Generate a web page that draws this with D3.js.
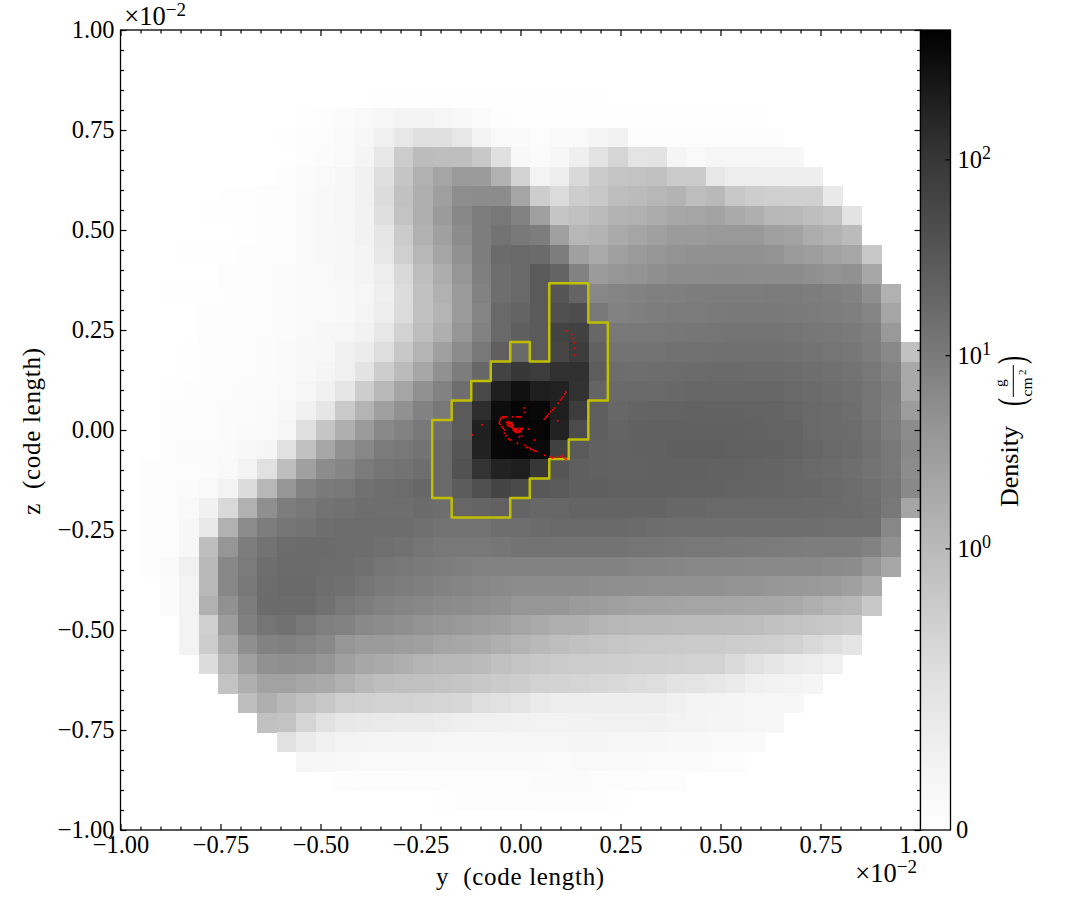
<!DOCTYPE html>
<html>
<head>
<meta charset="utf-8">
<script src="https://cdn.jsdelivr.net/npm/d3@7"></script>
<style>
  body { margin: 0; background: #fff; }
  text { font-family: "Liberation Serif", serif; fill: #000; }
  .axis path, .axis line { stroke: #000; stroke-width: 1.2; }
  .axis text { font-size: 24.5px; font-family: "Liberation Serif", serif; }
</style>
</head>
<body>
<svg id="plot" width="1085" height="920"></svg>
<script>
// Density, as darkness on the colour bar (0 = white, 255 = black).
// One row per cell row, top to bottom; short rows are blank to the right.
const densityRows = [
  [],
  [],
  [],
  [0,0,0,0,0,0,0,0,0,0,0,0,0,1,1,1,1,1,1,1,1,1,1,1,1],
  [0,0,0,0,0,0,0,0,0,1,2,4,6,9,11,11,9,7,4,2,1,1,1,1,1,1,1,1,1,1,1,1,1],
  [0,0,0,0,0,0,0,0,1,2,3,5,8,15,24,31,31,24,12,6,5,3,5,6,10,13,3,3,3,3,3,3,3,3],
  [0,0,0,0,0,0,0,0,0,2,4,6,10,23,51,67,65,65,55,31,7,4,8,16,28,42,27,28,10,6,9,9,9,9,8],
  [0,0,0,0,0,0,0,0,2,4,6,9,14,32,58,78,90,100,100,78,45,12,18,38,52,58,60,62,52,52,24,18,18,17,17,17],
  [0,0,0,0,0,1,1,2,3,5,7,9,14,35,62,80,96,113,115,115,90,50,36,50,55,65,68,72,76,65,70,55,50,48,47,47,22],
  [0,0,0,0,1,1,1,2,3,5,7,9,13,32,60,80,100,120,130,135,125,95,58,62,68,76,78,84,88,90,92,85,80,72,70,65,60,28],
  [0,0,0,0,0,0,1,2,3,5,7,8,13,25,52,78,95,115,130,140,135,130,95,72,76,85,90,95,100,100,102,102,102,95,92,82,76,68],
  [0,0,0,1,1,1,2,2,3,5,7,8,11,24,48,72,90,110,130,148,150,148,130,95,85,95,100,105,108,110,110,110,110,108,100,97,92,88,55],
  [0,0,0,0,0,2,2,3,4,5,6,8,11,18,38,65,82,105,128,145,150,165,155,125,100,105,108,112,115,115,116,116,115,115,115,112,108,110,88],
  [0,0,1,1,1,2,3,3,4,5,6,7,9,16,35,62,78,100,125,145,150,165,170,155,120,123,125,127,128,130,130,130,130,132,132,130,128,125,112,78],
  [0,0,0,0,2,3,3,3,4,5,6,7,10,18,36,62,75,100,122,150,155,165,175,178,135,125,128,130,132,132,133,134,134,134,133,132,130,128,122,90],
  [0,0,0,0,2,3,3,3,4,6,8,9,13,24,45,65,80,105,125,150,160,165,188,190,152,135,135,135,136,137,138,139,139,139,138,136,135,133,128,102],
  [0,0,0,1,2,2,3,4,5,7,8,15,19,33,55,75,95,115,135,160,150,165,185,195,158,140,140,140,142,142,143,143,143,143,142,140,138,136,130,118,62],
  [0,0,0,1,2,3,3,4,5,7,10,15,28,50,68,88,110,130,152,188,200,195,207,207,162,146,145,146,147,148,149,149,148,148,147,145,143,140,135,125,86],
  [0,0,1,2,3,3,4,4,6,9,14,25,50,70,90,110,125,145,183,225,238,225,222,205,155,150,150,150,151,152,153,153,153,152,150,148,146,143,138,130,87],
  [0,0,2,3,3,4,4,5,7,14,25,53,75,95,110,125,135,165,210,242,250,247,225,195,160,152,155,156,156,157,157,157,156,155,153,150,148,145,138,128,99],
  [0,0,2,3,3,4,5,6,9,31,58,80,100,118,125,135,145,165,223,248,252,250,221,180,160,155,158,158,158,158,158,158,157,156,155,150,148,147,140,130,115],
  [0,0,3,4,4,5,7,10,30,62,88,110,120,132,135,140,150,170,221,247,250,245,190,165,158,157,158,158,160,160,160,159,158,158,156,153,150,148,142,135,118],
  [0,2,3,3,4,6,12,30,65,95,115,122,132,138,140,145,150,173,204,221,225,200,170,160,158,157,157,158,158,158,157,157,156,155,153,150,148,145,140,135,115],
  [0,2,3,4,6,12,35,72,105,125,133,135,142,145,147,152,150,163,175,187,181,167,165,160,160,158,158,158,158,157,157,156,155,154,153,152,150,147,143,137,118],
  [0,2,3,6,14,38,78,112,130,135,140,142,145,145,145,148,145,153,155,158,155,152,152,155,155,155,155,155,152,152,150,150,150,150,150,149,148,147,145,135,90],
  [0,2,3,8,22,78,115,130,137,140,145,147,147,146,146,143,140,140,140,145,145,148,150,150,150,150,148,146,145,145,145,145,145,145,145,145,144,144,143,120],
  [0,2,3,8,65,105,130,140,147,148,148,147,146,144,142,138,135,135,135,137,140,140,140,140,140,140,138,137,136,135,135,134,133,132,131,130,130,130,125,110],
  [0,2,5,15,70,120,132,145,148,148,147,146,143,138,135,133,130,128,125,125,125,125,125,125,125,125,123,122,121,120,120,119,118,118,118,118,116,115,105,88],
  [0,0,4,12,70,120,135,147,150,150,145,143,138,133,130,128,125,122,120,118,115,115,115,115,113,112,112,111,110,110,110,108,107,105,103,102,100,95,85],
  [0,0,4,12,78,110,130,148,148,148,142,135,130,125,122,120,117,115,112,110,105,105,105,100,98,95,93,92,91,90,90,89,88,88,85,80,75,72,55],
  [0,0,0,12,48,98,127,138,142,135,127,125,118,115,112,108,105,102,98,95,90,85,80,80,75,72,70,70,69,68,68,67,66,62,60,58,55,52],
  [0,0,0,12,50,85,112,125,127,123,118,105,100,100,97,95,90,88,85,80,75,70,65,62,60,57,55,54,53,52,52,50,49,48,45,38,33,26],
  [0,0,0,0,35,72,95,110,112,110,105,95,88,85,80,75,72,72,68,62,58,55,52,51,50,49,48,47,46,45,45,37,30,25,20,18,15],
  [0,0,0,0,0,60,80,93,93,88,85,78,70,65,63,62,60,58,55,52,50,45,44,42,40,38,35,33,28,27,24,20,15,13,12,10],
  [0,0,0,0,0,0,65,80,70,63,55,48,46,45,45,43,42,40,33,30,27,20,18,18,17,17,17,18,14,12,11,10,9,8,8],
  [0,0,0,0,0,0,0,62,60,42,30,23,22,21,20,20,18,16,15,14,13,12,12,13,13,13,13,14,12,11,10,10,9,8],
  [0,0,0,0,0,0,0,0,30,20,15,12,11,10,10,10,9,9,9,9,9,9,9,10,10,9,8,8,7,7,6,5,5],
  [0,0,0,0,0,0,0,0,0,9,8,7,6,6,6,5,5,5,5,5,5,5,4,6,6,5,5,4,4,4,3,3],
  [0,0,0,0,0,0,0,0,0,0,0,2,3,3,3,3,3,3,3,3,3,4,4,4,3,3,3,2,2],
  [0,0,0,0,0,0,0,0,0,0,0,0,0,0,0,0,1,2,2,2,2,3,3,3,3,1],
  []
];

const gridSize = 41;

// Outline as cell edges (column, row)
const contourCols = [22,24,24,25,25,24,24,23,23,22,22,21,21,20,20,17,17,16,16,17,17,18,18,19,19,20,20,21,21,22,22];
const contourRows = [13,13,15,15,19,19,21,21,22,22,23,23,24,24,25,25,24,24,20,20,19,19,18,18,17,17,16,16,17,17,13];

// Particles, y and z in units of 10^-2 code length
const particleY = [0.009,0.010,-0.045,-0.039,-0.036,-0.020,-0.010,-0.005,0.000,-0.050,-0.053,-0.051,-0.046,-0.043,-0.040,-0.035,-0.030,-0.026,-0.022,-0.020,-0.018,-0.028,-0.033,-0.022,-0.016,-0.012,-0.007,-0.001,0.005,-0.014,-0.010,0.000,-0.003,0.003,0.020,-0.040,-0.036,-0.030,-0.025,-0.008,-0.096,-0.120,0.011,0.015,0.024,0.032,0.039,0.035,0.061,0.074,0.082,0.092,0.099,0.100,0.114,0.060,0.064,0.067,0.076,0.081,0.094,0.093,0.103,0.106,0.111,0.113,0.114,0.128,0.132,0.134,0.135,0.135,
  -0.032,-0.028,-0.024,-0.030,-0.025,-0.020,-0.015,-0.018,-0.012,-0.008,-0.004,-0.005,0.000,0.003,-0.010,-0.042,-0.048,-0.052,0.026,0.036,0.018,0.080,0.105,0.110,0.070,0.085,0.100];
const particleZ = [0.055,0.044,0.033,0.033,0.033,0.033,0.033,0.033,0.032,0.027,0.018,0.014,0.008,0.004,0.000,0.019,0.017,0.017,0.019,0.014,0.011,0.012,0.014,0.008,0.000,0.000,0.004,0.004,0.004,-0.004,-0.006,-0.004,-0.017,-0.015,0.002,-0.008,-0.014,-0.022,-0.025,-0.033,0.013,-0.012,-0.038,-0.044,-0.046,-0.050,-0.053,-0.025,-0.063,-0.067,-0.068,-0.068,-0.067,-0.068,-0.073,0.028,0.032,0.035,0.046,0.050,0.067,0.023,0.079,0.083,0.090,0.095,0.248,0.239,0.229,0.218,0.204,0.187,
  0.020,0.020,0.015,0.010,0.009,0.005,0.004,0.000,-0.003,0.001,-0.002,-0.006,0.000,0.002,0.002,0.030,0.030,0.022,-0.048,-0.052,-0.043,-0.070,-0.064,-0.070,0.040,0.055,0.075];

const majorTicks = [-1,-0.75,-0.5,-0.25,0,0.25,0.5,0.75,1];
const minorTicks = d3.range(-20, 21).map(i => i / 20).filter(v => !majorTicks.includes(v));
const colorbarTicks = [1, 10, 100];
const colorbarMax = 457;

// Colour bar shade: position along the bar (0 bottom, 1 top) against darkness
const barPositions = [0, 0.1, 0.2, 0.35, 0.5, 0.595, 0.7, 0.839, 0.9, 1];
const barDarkness = [0, 15, 33, 69, 105, 133, 163, 201, 221, 255];

const plotLeft = 120.5, plotRight = 920.5, plotTop = 30, plotBottom = 830;
const barLeft = 920.5, barRight = 950.5;

const svg = d3.select("#plot");
svg.append("rect").attr("width", 1085).attr("height", 920).attr("fill", "#fff");

const x = d3.scaleLinear().domain([-1, 1]).range([plotLeft, plotRight]);
const y = d3.scaleLinear().domain([-1, 1]).range([plotBottom, plotTop]);
const colX = d3.scaleLinear().domain([0, gridSize]).range([-1, 1]);
const rowY = d3.scaleLinear().domain([0, gridSize]).range([1, -1]);
const shade = d3.scaleLinear().domain([0, 255]).range(["#ffffff", "#000000"]);
const densityAxis = d3.scaleSymlog().constant(0.038).domain([0, colorbarMax]).range([plotBottom, plotTop]);

// Density cells
const cells = densityRows.flatMap((row, r) => row.map((v, c) => ({ r, c, v }))).filter(d => d.v > 0);
svg.append("g").attr("shape-rendering", "crispEdges")
  .selectAll("rect").data(cells).join("rect")
  .attr("x", d => x(colX(d.c)))
  .attr("y", d => y(rowY(d.r)))
  .attr("width", d => x(colX(d.c + 1)) - x(colX(d.c)) + 0.3)
  .attr("height", d => y(rowY(d.r + 1)) - y(rowY(d.r)) + 0.3)
  .attr("fill", d => shade(d.v));

// Contour
const contourPoints = contourCols.map((c, i) => [c, contourRows[i]]);
const contourLine = d3.line().x(d => x(colX(d[0])) - 0.5).y(d => y(rowY(d[1])) - 0.3);
svg.append("path")
  .attr("d", contourLine(contourPoints) + "Z")
  .attr("fill", "none")
  .attr("stroke", "#bfbf00")
  .attr("stroke-width", 2.5)
  .attr("stroke-linejoin", "round");

// Particles
svg.append("g").selectAll("rect").data(particleY).join("rect")
  .attr("x", d => x(d) - 0.85)
  .attr("y", (d, i) => y(particleZ[i]) - 0.85)
  .attr("width", 1.7)
  .attr("height", 1.7)
  .attr("fill", "#ff0000");

// Frame
svg.append("rect")
  .attr("x", plotLeft).attr("y", plotTop)
  .attr("width", plotRight - plotLeft).attr("height", plotBottom - plotTop)
  .attr("fill", "none").attr("stroke", "#000").attr("stroke-width", 1.3);

// Ticks on all four sides, pointing in
function addTicks(axisFn, scale, tx, ty, labels) {
  const major = axisFn(scale).tickValues(majorTicks).tickSize(-6).tickSizeOuter(0).tickPadding(6)
    .tickFormat(labels ? d3.format(".2f") : "");
  const minor = axisFn(scale).tickValues(minorTicks).tickSize(-3.5).tickSizeOuter(0).tickFormat("");
  for (const a of [major, minor]) {
    const g = svg.append("g").attr("class", "axis").attr("transform", `translate(${tx},${ty})`).call(a);
    g.select(".domain").remove();
  }
}
addTicks(d3.axisBottom, x, 0, plotBottom, true);
addTicks(d3.axisTop, x, 0, plotTop, false);
addTicks(d3.axisLeft, y, plotLeft, 0, true);
addTicks(d3.axisRight, y, plotRight, 0, false);

// Offset labels
function offsetLabel(px, py) {
  const t = svg.append("text").attr("x", px).attr("y", py).attr("text-anchor", "end").style("font-size", "26.5px");
  t.append("tspan").text("×10");
  t.append("tspan").attr("dy", -9).style("font-size", "19px").text("−2");
}
offsetLabel(186, 25);
offsetLabel(917, 882);

// Axis titles
svg.append("text").attr("x", 520.5).attr("y", 885).attr("text-anchor", "middle")
  .style("font-size", "25px").style("letter-spacing", "0.7px").attr("xml:space", "preserve").text("y  (code length)");
svg.append("text").attr("transform", "translate(40,431) rotate(-90)").attr("text-anchor", "middle")
  .style("font-size", "25px").style("letter-spacing", "0.7px").attr("xml:space", "preserve").text("z  (code length)");

// Colour bar
const barGrad = svg.append("defs").append("linearGradient").attr("id", "barGrad")
  .attr("x1", 0).attr("x2", 0).attr("y1", 1).attr("y2", 0);
barGrad.selectAll("stop").data(barPositions).join("stop")
  .attr("offset", d => d)
  .attr("stop-color", (d, i) => shade(barDarkness[i]));
svg.append("rect")
  .attr("x", barLeft).attr("y", plotTop)
  .attr("width", barRight - barLeft).attr("height", plotBottom - plotTop)
  .attr("fill", "url(#barGrad)");
svg.append("rect")
  .attr("x", barLeft).attr("y", plotTop)
  .attr("width", barRight - barLeft).attr("height", plotBottom - plotTop)
  .attr("fill", "none").attr("stroke", "#000").attr("stroke-width", 1.3);

const barAxis = d3.axisRight(densityAxis).tickValues(colorbarTicks).tickSize(-5).tickSizeOuter(0).tickFormat("");
const barG = svg.append("g").attr("class", "axis").attr("transform", `translate(${barRight},0)`).call(barAxis);
barG.select(".domain").remove();

colorbarTicks.forEach(v => {
  const t = svg.append("text").attr("x", 957.5).attr("y", densityAxis(v) + 9).style("font-size", "24.5px");
  t.append("tspan").text("10");
  t.append("tspan").attr("dy", -9).style("font-size", "18px").text(Math.log10(v));
});
svg.append("text").attr("x", 956).attr("y", 838).style("font-size", "24.5px").text("0");

// Colour bar title, reading upward
const title = svg.append("g").attr("transform", "translate(1018,507) rotate(-90)");
title.append("text").attr("x", 0).attr("y", 0).style("font-size", "26px").text("Density");
title.append("text").attr("transform", "translate(101,6) scale(1,1.6)").style("font-size", "24px").text("(");
title.append("text").attr("transform", "translate(143,6) scale(1,1.6)").style("font-size", "24px").text(")");
title.append("line").attr("x1", 110).attr("x2", 142).attr("y1", -4.7).attr("y2", -4.7).attr("stroke", "#000").attr("stroke-width", 1);
title.append("text").attr("x", 124).attr("y", -13).attr("text-anchor", "middle").style("font-size", "15.5px").text("g");
title.append("text").attr("x", 120).attr("y", 14).attr("text-anchor", "middle").style("font-size", "15.5px").text("cm");
title.append("text").attr("x", 132).attr("y", 8).style("font-size", "11px").text("2");
</script>
</body>
</html>
